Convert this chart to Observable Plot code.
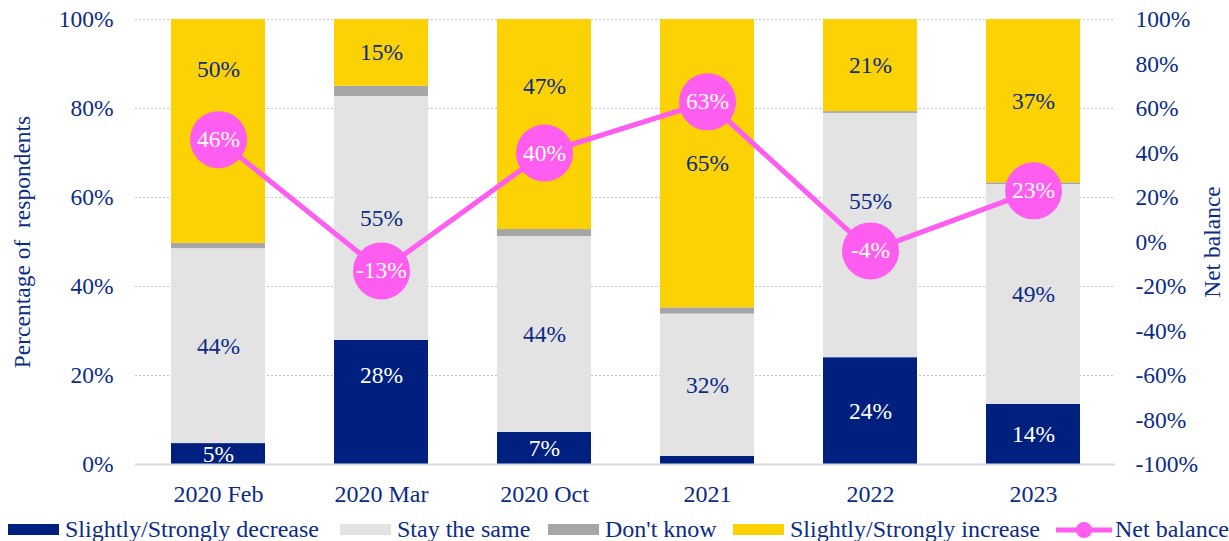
<!DOCTYPE html>
<html>
<head>
<meta charset="utf-8">
<script src="https://cdn.jsdelivr.net/npm/d3@7"></script>
<script src="https://cdn.jsdelivr.net/npm/@observablehq/plot@0.6"></script>
<style>
  html, body { margin: 0; padding: 0; background: #fff; }
  body { width: 1229px; height: 541px; overflow: hidden; font-family: "Liberation Serif", "Times New Roman", serif; }
  #legend { position: relative; height: 31px; font-size: 24px; color: #0b2c86; }
  .item { position: absolute; top: 4px; display: flex; align-items: center; height: 31px; white-space: nowrap; }
  .sw { width: 51px; height: 11px; margin-right: 6px; }
</style>
</head>
<body>
<div id="chart"></div>
<div id="legend"></div>
<script>
const categories = ["2020 Feb", "2020 Mar", "2020 Oct", "2021", "2022", "2023"];
const seriesNames = ["Slightly/Strongly decrease", "Stay the same", "Don't know", "Slightly/Strongly increase"];
const decrease = [4.7, 27.9, 7.2, 1.8, 24.0, 13.5];
const stayTheSame = [43.8, 54.8, 44.0, 32.0, 54.9, 49.4];
const dontKnow = [1.2, 2.3, 1.6, 1.4, 0.4, 0.4];
const increase = [50.3, 15.0, 47.2, 64.8, 20.7, 36.7];
const netBalance = [46, -13, 40, 63, -4, 23];
const leftTicks = [0, 20, 40, 60, 80, 100];
const rightTicks = [-100, -80, -60, -40, -20, 0, 20, 40, 60, 80, 100];

const colors = ["#002080", "#e3e3e3", "#a6a6a6", "#fdd205"];
const navy = "#0b2c86";
const magenta = "#ff5cf0";
const font = '"Liberation Serif", "Times New Roman", serif';
const fs = 23.5;

// label nudges (percentage points) where labels avoid the net-balance circles
const labelShift = {"2020 Feb|3": 14, "2020 Oct|3": 8.5, "2020 Mar|0": 6, "2022|1": 7.6};

const seriesValues = [decrease, stayTheSame, dontKnow, increase];
const rows = [];
const labels = [];
categories.forEach((c, i) => {
  let base = 0;
  seriesValues.forEach((arr, s) => {
    const v = arr[i];
    rows.push({cat: c, series: seriesNames[s], value: v});
    if (s !== 2 && v >= 3) {
      labels.push({cat: c, y: base + v / 2 + (labelShift[c + "|" + s] || 0),
                   text: Math.round(v) + "%", fill: s === 0 ? "#ffffff" : navy});
    }
    base += v;
  });
});
const net = categories.map((c, i) => ({cat: c, net: netBalance[i], y: (netBalance[i] + 100) / 2}));

const plot = Plot.plot({
  width: 1229,
  height: 510,
  marginLeft: 135,
  marginRight: 114,
  marginTop: 19,
  marginBottom: 46,
  style: {fontFamily: font, fontSize: fs + "px", color: navy, background: "#fff"},
  x: {domain: categories, paddingInner: 0.425, paddingOuter: 0.214, label: null},
  y: {domain: [0, 100], label: null},
  color: {domain: seriesNames, range: colors},
  marks: [
    Plot.gridY({ticks: [20, 40, 60, 80, 100], stroke: "#c6c6c6", strokeOpacity: 1, strokeDasharray: "2,2"}),
    Plot.barY(rows, {x: "cat", y: "value", fill: "series", order: seriesNames}),
    Plot.ruleY([0], {stroke: "#d9d9d9", strokeWidth: 2}),
    Plot.axisY({anchor: "left", ticks: leftTicks, tickFormat: d => d + "%", tickSize: 0, tickPadding: 22, label: null, fill: navy, fontSize: fs}),
    Plot.axisY({anchor: "right", ticks: rightTicks.map(t => (t + 100) / 2), tickFormat: d => (d * 2 - 100) + "%", tickSize: 0, tickPadding: 20, label: null, fill: navy, fontSize: fs}),
    Plot.axisX({tickSize: 0, tickPadding: 20, label: null, fill: navy, fontSize: 24}),
    Plot.text(labels, {x: "cat", y: "y", text: "text", fill: "fill", fontSize: fs}),
    Plot.line(net, {x: "cat", y: "y", stroke: magenta, strokeWidth: 5}),
    Plot.dot(net, {x: "cat", y: "y", r: 28.5, fill: magenta, stroke: null}),
    Plot.text(net, {x: "cat", y: "y", text: d => d.net + "%", fill: "#ffffff", fontSize: fs}),
    Plot.text([0], {frameAnchor: "left", dx: -113, rotate: -90, textAnchor: "middle", text: () => "Percentage of\u00a0 respondents", fill: navy, fontSize: fs}),
    Plot.text([0], {frameAnchor: "right", dx: 97, rotate: -90, textAnchor: "middle", text: () => "Net balance", fill: navy, fontSize: fs})
  ]
});
document.getElementById("chart").appendChild(plot);

// legend
const legend = document.getElementById("legend");
const lefts = [8, 340, 548, 733];
seriesNames.forEach((name, i) => {
  const it = document.createElement("div");
  it.className = "item";
  it.style.left = lefts[i] + "px";
  it.innerHTML = `<div class="sw" style="background:${colors[i]}"></div><span>${name}</span>`;
  legend.appendChild(it);
});
const ln = document.createElement("div");
ln.className = "item";
ln.style.left = "1056px";
ln.innerHTML = `<svg width="57" height="20" style="margin-right:2px"><line x1="0" x2="56" y1="10" y2="10" stroke="${magenta}" stroke-width="5"/><circle cx="28" cy="10" r="8" fill="${magenta}"/></svg><span>Net balance</span>`;
legend.appendChild(ln);
</script>
</body>
</html>
